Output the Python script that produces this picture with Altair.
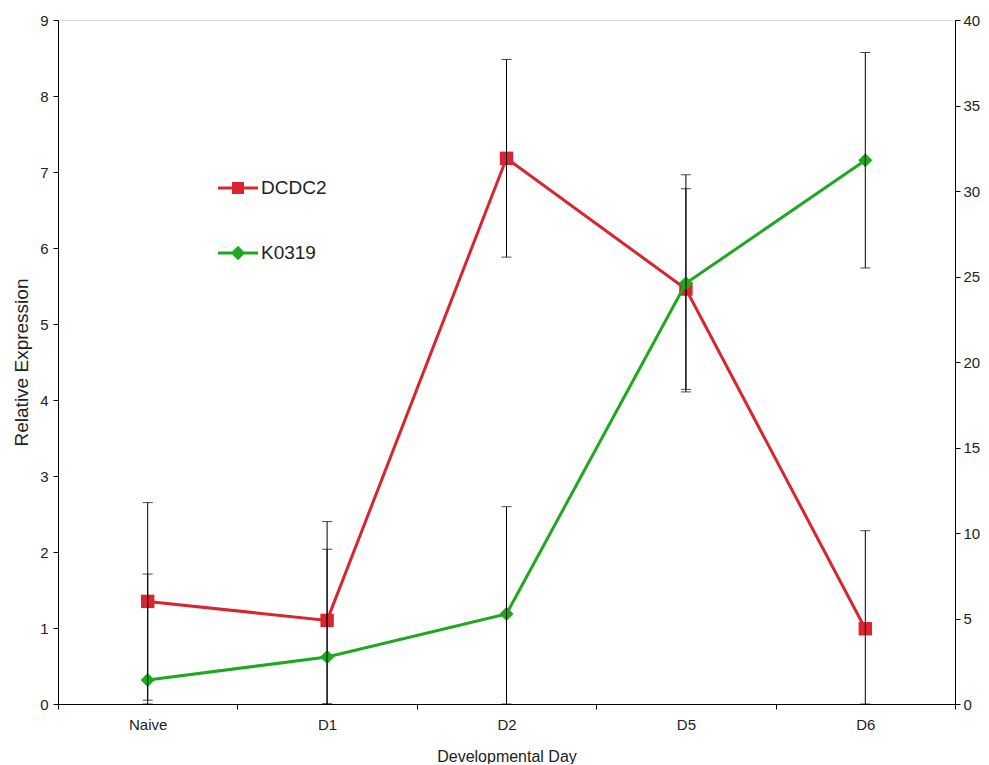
import altair as alt
import pandas as pd

days = ["Naive", "D1", "D2", "D5", "D6"]
dcdc2 = [1.35, 1.10, 7.18, 5.46, 0.99]
dcdc2_err = [1.30, 1.30, 1.30, 1.32, 1.29]
k0319 = [1.4, 2.75, 5.27, 24.6, 31.8]
k0319_err = [6.2, 6.3, 6.27, 6.35, 6.3]
genes = ["DCDC2", "K0319"]

RED = "#d9252f"
GREEN = "#1fa81f"
FONT = "Liberation Sans"

df_r = pd.DataFrame({"day": days, "value": dcdc2, "err": dcdc2_err, "gene": "DCDC2"})
df_g = pd.DataFrame({"day": days, "value": k0319, "err": k0319_err, "gene": "K0319"})
for d in (df_r, df_g):
    d["lo"] = (d["value"] - d["err"]).clip(lower=0)
    d["hi"] = d["value"] + d["err"]
df_leg = pd.DataFrame({"day": days[0], "gene": genes, "hid": -100.0})

xenc = alt.X("day:N", sort=days, title="Developmental Day",
             scale=alt.Scale(paddingInner=0, paddingOuter=0),
             axis=alt.Axis(labelAngle=0, tickBand="extent", domainColor="black",
                           tickColor="black", labelFontSize=15, titleFontSize=16,
                           labelColor="#222", titleColor="#222", labelPadding=8,
                           titlePadding=16, titleFontWeight="normal"))

SQ = "M-1,-0.075H1V0.075H-1Z M-0.3,-0.3H0.3V0.3H-0.3Z"
DI = "M-1,-0.075H1V0.075H-1Z M0,-0.36L0.36,0L0,0.36L-0.36,0Z"

leg = alt.Legend(orient="none", legendX=160, legendY=148, title=None,
                 symbolSize=1600, labelFontSize=19, labelColor="#222",
                 rowPadding=35, labelOffset=3, padding=0, symbolStrokeWidth=0,
                 symbolOpacity=1)


def yscale(domain):
    return alt.Scale(domain=domain, nice=False)


def series(df, domain, orient, shape, size, ticks, col, with_legend):
    ttl = "Relative Expression" if orient == "left" else None
    ax = alt.Axis(orient=orient, grid=False, values=ticks, domainColor="black", format="d",
                  tickColor="black", tickSize=5, labelFontSize=15,
                  labelColor="#222", labelPadding=5 if orient == "left" else 3,
                  titleFontSize=19, titleColor="#222", titleFontWeight="normal",
                  titlePadding=8)
    y = alt.Y("value:Q", scale=yscale(domain), axis=ax, title=ttl)
    base = alt.Chart(df)
    line = base.mark_line(strokeWidth=3, color=col).encode(x=xenc, y=y)
    pts = base.mark_point(filled=True, opacity=1, size=size, shape=shape, color=col).encode(
        x=xenc, y=y)
    err = base.mark_errorbar(ticks={"size": 10, "color": "black", "strokeWidth": 1},
                             rule={"color": "black", "strokeWidth": 1}).encode(
        x=xenc, y=alt.Y("lo:Q", scale=yscale(domain), axis=ax, title=ttl), y2="hi:Q")
    layers = [line, pts, err]
    if with_legend:
        lg = alt.Chart(df_leg).mark_point(filled=True, opacity=1, clip=True).encode(
            x=xenc, y=alt.Y("hid:Q", scale=yscale(domain), axis=ax, title=ttl),
            color=alt.Color("gene:N", scale=alt.Scale(domain=genes, range=[RED, GREEN]), legend=leg),
            shape=alt.Shape("gene:N", scale=alt.Scale(domain=genes, range=[SQ, DI]), legend=leg))
        layers.append(lg)
    return alt.layer(*layers)


left = series(df_r, [0, 9], "left", "square", 180, list(range(0, 10)), RED, True)
right = series(df_g, [0, 40], "right", "diamond", 200, list(range(0, 41, 5)), GREEN, False)

chart = alt.layer(left, right).resolve_scale(y="independent").properties(
    width=897, height=684, padding={"left": 4, "top": 5, "right": 0, "bottom": 0}
).configure_view(stroke=None).configure(font=FONT)

chart.save("out.html", embed_options={"renderer": "svg", "actions": False})
